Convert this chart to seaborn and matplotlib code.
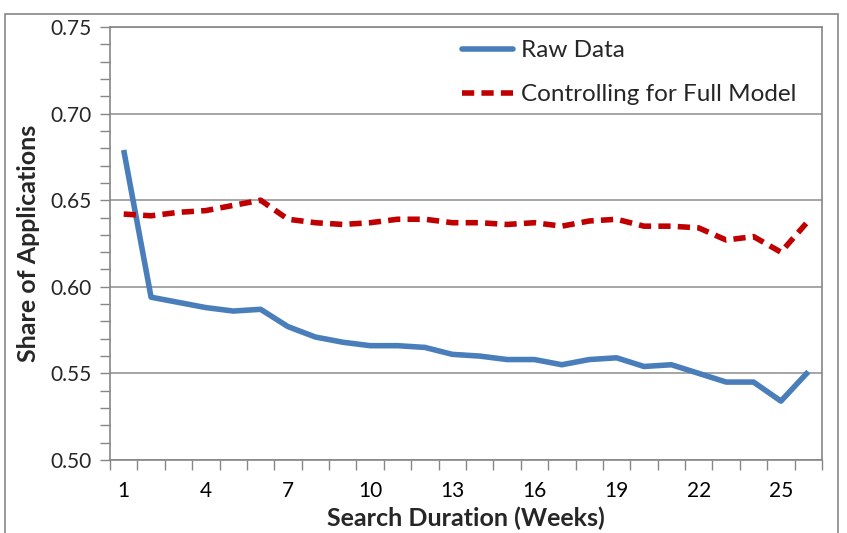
import matplotlib
matplotlib.use("Agg")
import matplotlib.pyplot as plt
import seaborn as sns
import pandas as pd
import numpy as np
from matplotlib.ticker import MultipleLocator, FixedLocator
from matplotlib.patches import Rectangle
from matplotlib.lines import Line2D

weeks = list(range(1, 27))
raw_data = [0.679, 0.594, 0.591, 0.588, 0.586, 0.587, 0.577, 0.571, 0.568, 0.566,
            0.566, 0.565, 0.561, 0.560, 0.558, 0.558, 0.555, 0.558, 0.559, 0.554,
            0.555, 0.550, 0.545, 0.545, 0.534, 0.551]
full_model = [0.642, 0.641, 0.643, 0.644, 0.647, 0.650, 0.639, 0.637, 0.636, 0.637,
              0.639, 0.639, 0.637, 0.637, 0.636, 0.637, 0.635, 0.638, 0.639, 0.635,
              0.635, 0.634, 0.627, 0.629, 0.620, 0.638]
series_names = ["Raw Data", "Controlling for Full Model"]
x_tick_labels = [1, 4, 7, 10, 13, 16, 19, 22, 25]

sns.set_theme(style="white")
plt.rcParams['font.family'] = ['Lato', 'DejaVu Sans']

df = pd.DataFrame({"week": weeks * 2,
                   "share": raw_data + full_model,
                   "series": [series_names[0]] * 26 + [series_names[1]] * 26})

fig = plt.figure(figsize=(8.47, 5.33), dpi=100)
ax = fig.add_axes([110/847, 1 - 460/533, (822-110)/847, (460-27)/533])

blue, red = "#4a7ebb", "#c00000"
dash = (2.2, 1.3)
palette = {series_names[0]: blue, series_names[1]: red}
sns.lineplot(data=df, x="week", y="share", hue="series", style="series",
             palette=palette, dashes={series_names[0]: "", series_names[1]: dash},
             linewidth=4, ax=ax, legend=False)
for ln in ax.lines:
    ln.set_solid_capstyle("butt")
    ln.set_dash_capstyle("butt")

ax.set_xlim(0.5, 26.5)
yt = [0.50, 0.55, 0.60, 0.65, 0.70, 0.75]
ax.set_yticks(yt)
ax.set_yticklabels([f"{v:.2f}" for v in yt])
ax.yaxis.set_minor_locator(MultipleLocator(0.01))
ax.set_ylim(0.50, 0.75)
ax.grid(axis="y", which="major", color="#969696", linewidth=1.2)
ax.set_xticks(x_tick_labels)
ax.set_xticklabels([str(v) for v in x_tick_labels])
ax.xaxis.set_minor_locator(FixedLocator(np.arange(0.5, 27, 1)))
ax.tick_params(axis="x", which="major", length=0, labelsize=15, pad=15, colors="black")
ax.tick_params(axis="x", which="minor", length=7, width=1, color="#868686", direction="out", bottom=True)
ax.tick_params(axis="y", which="both", length=7, width=1, color="#868686", direction="out", left=True, labelsize=15, pad=6)
for s in ax.spines.values():
    s.set_color("#868686")
    s.set_linewidth(1.2)

ax.set_xlabel("Search Duration (Weeks)", fontsize=18, fontweight="bold", labelpad=4)
ax.set_ylabel("Share of Applications", fontsize=18, fontweight="bold", labelpad=8)

handles = [Line2D([], [], color=blue, linewidth=4),
           Line2D([], [], color=red, linewidth=4, linestyle=(0, dash))]
ax.legend(handles, series_names, loc="upper left", bbox_to_anchor=(0.475, 1.0),
          frameon=False, fontsize=17.5, handlelength=2.1, handletextpad=0.35,
          labelspacing=0.95, borderaxespad=0.15)

fig.patches.append(Rectangle((5/847, -0.1), (838-5)/847, 1.1 - 14/533,
                             transform=fig.transFigure, fill=False,
                             edgecolor="#868686", linewidth=1.2))

fig.savefig("out.png", dpi=100)
